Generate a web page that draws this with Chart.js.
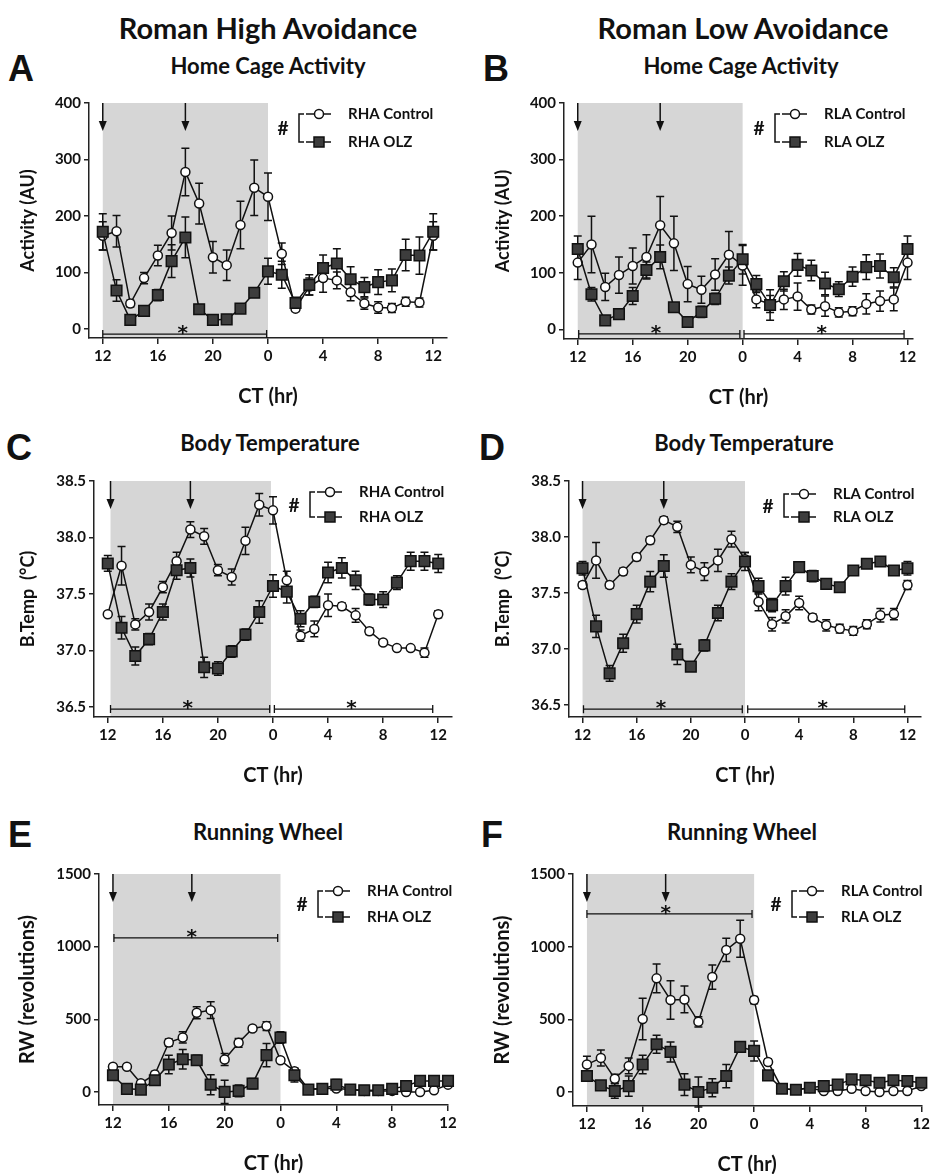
<!DOCTYPE html>
<html>
<head>
<meta charset="utf-8">
<script src="https://cdn.jsdelivr.net/npm/chart.js"></script>
<style>
  body { margin: 0; background: #fff; width: 933px; height: 1174px; position: relative; overflow: hidden; font-family: Lato, sans-serif; }
  .t { position: absolute; font-weight: bold; color: #111; white-space: nowrap; line-height: 1; transform: translate(-50%, -50%); }
  .let { font-family: "Liberation Sans", Arial, sans-serif; font-size: 36px; }
  canvas { position: absolute; }
</style>
</head>
<body>
<div class="t" style="left:268px;top:27px;font-size:29px">Roman High Avoidance</div>
<div class="t" style="left:743px;top:27px;font-size:29px">Roman Low Avoidance</div>
<div class="t let" style="left:21px;top:69px">A</div>
<div class="t let" style="left:496px;top:69px">B</div>
<div class="t" style="left:268px;top:66px;font-size:22px">Home Cage Activity</div>
<div class="t" style="left:741px;top:66px;font-size:22px">Home Cage Activity</div>
<div class="t let" style="left:19px;top:448px">C</div>
<div class="t let" style="left:492px;top:448px">D</div>
<div class="t" style="left:270px;top:443px;font-size:22px">Body Temperature</div>
<div class="t" style="left:744px;top:443px;font-size:22px">Body Temperature</div>
<div class="t let" style="left:20px;top:835px">E</div>
<div class="t let" style="left:492px;top:835px">F</div>
<div class="t" style="left:268px;top:832px;font-size:22px">Running Wheel</div>
<div class="t" style="left:742px;top:832px;font-size:22px">Running Wheel</div>

<script>
// hours since CT12, one point per hour
const ctIndex = [0,1,2,3,4,5,6,7,8,9,10,11,12,13,14,15,16,17,18,19,20,21,22,23,24];
const xTickVals = [0,4,8,12,16,20,24];
const xTickLabels = ['12','16','20','0','4','8','12'];

const actTicks = [0,100,200,300,400];
const tmpTicks = [36.5,37.0,37.5,38.0,38.5];
const rwTicks = [0,500,1000,1500];

// A - home cage activity, RHA
const actRhaCtl    = [165,173,45,90,130,170,278,222,127,113,184,250,234,133,36,75,90,86,65,45,38,37,48,47,165];
const actRhaCtlErr = [25,28,6,10,18,30,42,36,28,27,42,49,42,19,5,15,25,15,15,10,10,8,8,8,25];
const actRhaOlz    = [172,68,16,32,60,120,162,35,16,17,36,64,102,96,46,78,108,116,88,74,83,86,131,130,172];
const actRhaOlzErr = [32,19,5,5,10,29,36,6,5,5,6,6,23,24,10,18,23,26,22,17,22,20,28,33,32];

// B - home cage activity, RLA
const actRlaCtl    = [118,150,75,96,112,128,184,152,80,70,97,132,113,53,45,53,58,35,41,30,32,45,50,53,118];
const actRlaCtlErr = [30,50,24,32,32,39,51,48,31,24,28,41,35,15,15,18,24,8,18,8,8,18,18,20,30];
const actRlaOlz    = [142,62,16,27,59,105,128,39,13,31,54,95,124,80,43,85,114,104,81,71,93,110,112,92,142];
const actRlaOlzErr = [23,12,5,5,15,14,21,6,5,10,10,15,26,15,27,17,20,18,20,13,17,22,21,17,23];

// C - body temperature, RHA
const tmpRhaCtl    = [37.32,37.75,37.23,37.34,37.56,37.79,38.07,38.01,37.71,37.65,37.97,38.29,38.24,37.62,37.13,37.19,37.40,37.39,37.31,37.17,37.07,37.02,37.02,36.98,37.32];
const tmpRhaCtlErr = [0.02,0.17,0.05,0.07,0.05,0.08,0.07,0.07,0.05,0.07,0.12,0.10,0.12,0.08,0.05,0.07,0.10,0.03,0.06,0.03,0.02,0.02,0.02,0.04,0.03];
const tmpRhaOlz    = [37.77,37.20,36.95,37.10,37.34,37.71,37.73,36.85,36.84,36.99,37.14,37.34,37.57,37.52,37.28,37.43,37.69,37.73,37.62,37.45,37.45,37.60,37.79,37.79,37.77];
const tmpRhaOlzErr = [0.07,0.10,0.08,0.05,0.07,0.08,0.08,0.09,0.06,0.05,0.05,0.10,0.10,0.10,0.07,0.05,0.09,0.09,0.08,0.05,0.07,0.06,0.08,0.08,0.08];

// D - body temperature, RLA
const tmpRlaCtl    = [37.57,37.79,37.57,37.69,37.82,37.97,38.15,38.09,37.75,37.69,37.79,37.98,37.80,37.42,37.22,37.29,37.41,37.28,37.21,37.18,37.16,37.22,37.30,37.31,37.57];
const tmpRlaCtlErr = [0.03,0.16,0.03,0.03,0.03,0.03,0.03,0.05,0.07,0.08,0.10,0.07,0.06,0.08,0.06,0.06,0.06,0.03,0.05,0.04,0.04,0.04,0.06,0.05,0.04];
const tmpRlaOlz    = [37.72,37.20,36.78,37.05,37.31,37.60,37.74,36.95,36.84,37.03,37.32,37.60,37.78,37.56,37.39,37.56,37.73,37.65,37.58,37.55,37.70,37.76,37.78,37.70,37.72];
const tmpRlaOlzErr = [0.06,0.10,0.07,0.08,0.08,0.09,0.10,0.09,0.04,0.05,0.07,0.07,0.08,0.07,0.06,0.08,0.04,0.05,0.04,0.04,0.04,0.04,0.04,0.04,0.06];

// E - running wheel, RHA
const rwRhaCtl    = [173,173,60,120,340,375,545,563,223,338,437,453,218,143,18,23,23,16,7,7,7,0,0,12,50];
const rwRhaCtlErr = [15,12,12,20,25,39,41,57,41,30,15,30,15,20,8,8,8,8,8,8,8,8,8,8,10];
const rwRhaOlz    = [115,21,16,80,189,225,218,50,0,7,57,253,375,115,16,21,50,16,12,12,21,41,76,76,76];
const rwRhaOlzErr = [35,10,15,15,64,67,35,69,80,40,35,80,40,46,10,10,35,10,10,10,10,15,28,20,20];

// F - running wheel, RLA
const rwRlaCtl    = [189,235,92,180,502,782,633,637,483,791,978,1054,633,207,23,16,28,7,7,23,7,0,7,7,41];
const rwRlaCtlErr = [57,55,30,55,143,99,133,92,35,83,80,127,25,20,10,10,15,10,10,15,10,15,10,15,15];
const rwRlaOlz    = [110,46,7,41,189,329,276,51,0,30,110,311,283,115,23,16,30,41,51,87,81,64,81,76,64];
const rwRlaOlzErr = [30,20,50,70,64,62,69,75,103,62,80,35,69,30,10,10,15,15,15,20,15,15,15,15,15];

const INK = '#111';
Chart.defaults.font.family = 'Lato';
Chart.defaults.color = INK;

const decor = {
  id: 'decor',
  beforeDraw(chart, args, o) {
    const { ctx, chartArea: a, scales: { x } } = chart;
    const x0 = x.getPixelForValue(o.shade[0]);
    const x1 = x.getPixelForValue(o.shade[1]);
    ctx.save();
    ctx.fillStyle = '#d6d6d6';
    ctx.fillRect(x0, a.top, x1 - x0, a.bottom - a.top);
    ctx.restore();
  },
  beforeDatasetsDraw(chart, args, o) {
    const { ctx, chartArea: a, scales: { x, y } } = chart;
    ctx.save();
    ctx.strokeStyle = INK;
    ctx.fillStyle = INK;
    // arrows at the top
    ctx.lineWidth = 1.5;
    o.arrows.forEach(v => {
      const px = x.getPixelForValue(v);
      ctx.beginPath();
      ctx.moveTo(px, a.top);
      ctx.lineTo(px, a.top + 20);
      ctx.stroke();
      ctx.beginPath();
      ctx.moveTo(px - 4, a.top + 18);
      ctx.lineTo(px + 4, a.top + 18);
      ctx.lineTo(px, a.top + 28);
      ctx.closePath();
      ctx.fill();
    });
    // significance brackets
    ctx.lineWidth = 1.3;
    o.brackets.forEach(b => {
      const bx0 = x.getPixelForValue(b.from);
      const bx1 = x.getPixelForValue(b.to);
      const by = y.getPixelForValue(b.y);
      ctx.beginPath();
      ctx.moveTo(bx0, by); ctx.lineTo(bx1, by);
      ctx.moveTo(bx0, by - 4); ctx.lineTo(bx0, by + 4);
      ctx.moveTo(bx1, by - 4); ctx.lineTo(bx1, by + 4);
      ctx.stroke();
      ctx.font = 'bold 20px "DejaVu Sans"';
      ctx.textAlign = 'center';
      ctx.textBaseline = 'alphabetic';
      ctx.fillText('*', x.getPixelForValue(b.star), by + 5);
    });
    // error bars (SEM)
    ctx.lineWidth = 1.5;
    chart.data.datasets.forEach(ds => {
      ds.data.forEach((pt, i) => {
        const e = ds.err[i];
        const px = x.getPixelForValue(pt.x);
        const yt = y.getPixelForValue(pt.y + e);
        const yb = y.getPixelForValue(pt.y - e);
        ctx.beginPath();
        ctx.moveTo(px, yt); ctx.lineTo(px, yb);
        ctx.moveTo(px - 4, yt); ctx.lineTo(px + 4, yt);
        ctx.moveTo(px - 4, yb); ctx.lineTo(px + 4, yb);
        ctx.stroke();
      });
    });
    ctx.restore();
  },
  afterDraw(chart, args, o) {
    const { ctx, chartArea: a } = chart;
    const lg = o.legend;
    const hx = a.left + lg.dx;
    const r1 = a.top + lg.r1;
    const r2 = a.top + lg.r2;
    ctx.save();
    ctx.strokeStyle = INK;
    ctx.fillStyle = INK;
    ctx.lineWidth = 1.5;
    ctx.font = 'bold 19px Lato';
    ctx.textAlign = 'center';
    ctx.textBaseline = 'middle';
    ctx.fillText('#', hx, (r1 + r2) / 2 + 1);
    ctx.beginPath();
    ctx.moveTo(hx + 21, r1); ctx.lineTo(hx + 16, r1);
    ctx.lineTo(hx + 16, r2); ctx.lineTo(hx + 21, r2);
    ctx.stroke();
    [r1, r2].forEach(ry => {
      ctx.beginPath();
      ctx.moveTo(hx + 23, ry); ctx.lineTo(hx + 48, ry);
      ctx.stroke();
    });
    ctx.beginPath();
    ctx.arc(hx + 36, r1, 4.5, 0, Math.PI * 2);
    ctx.fillStyle = '#fff';
    ctx.fill();
    ctx.stroke();
    ctx.fillStyle = '#3d3d3d';
    ctx.fillRect(hx + 31, r2 - 5, 10, 10);
    ctx.strokeRect(hx + 31, r2 - 5, 10, 10);
    ctx.fillStyle = INK;
    ctx.font = 'bold 15px Lato';
    ctx.textAlign = 'left';
    ctx.fillText(lg.names[0], hx + 65, r1);
    ctx.fillText(lg.names[1], hx + 65, r2);
    ctx.restore();
  }
};

const panels = [
  { left: 0, w: 466, area: [89, 447, 103, 338], xMax: 25, yMin: -16, yMax: 400, yTicks: actTicks, dec: 0,
    yTitle: 'Activity (AU)', ySize: 18,
    ctl: actRhaCtl, ctlErr: actRhaCtlErr, olz: actRhaOlz, olzErr: actRhaOlzErr,
    names: ['RHA Control', 'RHA OLZ'], shade: [0, 12], arrows: [0, 6],
    brackets: [{ from: 0, to: 11.9, y: -9, star: 5.8 }],
    legend: { dx: 194, r1: 11, r2: 39 } },
  { left: 466, w: 467, area: [564, 913, 103, 339], xMax: 24.4, yMin: -17, yMax: 400, yTicks: actTicks, dec: 0,
    yTitle: 'Activity (AU)', ySize: 18,
    ctl: actRlaCtl, ctlErr: actRlaCtlErr, olz: actRlaOlz, olzErr: actRlaOlzErr,
    names: ['RLA Control', 'RLA OLZ'], shade: [0, 12], arrows: [0, 6],
    brackets: [{ from: 0.07, to: 11.8, y: -8, star: 5.7 }, { from: 12.1, to: 23.75, y: -8, star: 17.75 }],
    legend: { dx: 195, r1: 11, r2: 39 } },
  { left: 0, w: 466, area: [94, 452, 481, 717], xMax: 25, yMin: 36.41, yMax: 38.5, yTicks: tmpTicks, dec: 1,
    yTitle: 'B.Temp  (\u00B0C)', ySize: 18,
    ctl: tmpRhaCtl, ctlErr: tmpRhaCtlErr, olz: tmpRhaOlz, olzErr: tmpRhaOlzErr,
    names: ['RHA Control', 'RHA OLZ'], shade: [0.2, 11.85], arrows: [0.2, 6],
    brackets: [{ from: 0.2, to: 11.76, y: 36.48, star: 5.8 }, { from: 12.1, to: 23.6, y: 36.48, star: 17.7 }],
    legend: { dx: 200, r1: 11, r2: 36 } },
  { left: 466, w: 467, area: [569, 921, 481, 717], xMax: 25, yMin: 36.39, yMax: 38.5, yTicks: tmpTicks, dec: 1,
    yTitle: 'B.Temp  (\u00B0C)', ySize: 18,
    ctl: tmpRlaCtl, ctlErr: tmpRlaCtlErr, olz: tmpRlaOlz, olzErr: tmpRlaOlzErr,
    names: ['RLA Control', 'RLA OLZ'], shade: [0, 12], arrows: [0, 6],
    brackets: [{ from: 0.07, to: 11.8, y: 36.46, star: 5.8 }, { from: 12.2, to: 23.8, y: 36.46, star: 17.75 }],
    legend: { dx: 199, r1: 13, r2: 36 } },
  { left: 0, w: 466, area: [99, 448, 874, 1105], xMax: 24, yMin: -90, yMax: 1500, yTicks: rwTicks, dec: 0,
    yTitle: 'RW (revolutions)', ySize: 20,
    ctl: rwRhaCtl, ctlErr: rwRhaCtlErr, olz: rwRhaOlz, olzErr: rwRhaOlzErr,
    names: ['RHA Control', 'RHA OLZ'], shade: [0, 12], arrows: [0, 5.65],
    brackets: [{ from: 0.07, to: 11.8, y: 1060, star: 5.65 }],
    legend: { dx: 203, r1: 17, r2: 43 } },
  { left: 466, w: 467, area: [573, 923, 874, 1106], xMax: 24, yMin: -96, yMax: 1500, yTicks: rwTicks, dec: 0,
    yTitle: 'RW (revolutions)', ySize: 20,
    ctl: rwRlaCtl, ctlErr: rwRlaCtlErr, olz: rwRlaOlz, olzErr: rwRlaOlzErr,
    names: ['RLA Control', 'RLA OLZ'], shade: [0, 12], arrows: [0, 5.65],
    brackets: [{ from: 0, to: 11.85, y: 1225, star: 5.65 }],
    legend: { dx: 203, r1: 17, r2: 43 } }
];

const PAD_TOP = 12;
const X_AXIS_H = 71;

panels.forEach(p => {
  const [aL, aR, aT, aB] = p.area;
  const cv = document.createElement('canvas');
  const top = aT - PAD_TOP;
  const h = aB + X_AXIS_H - top;
  cv.width = p.w;
  cv.height = h;
  cv.style.left = p.left + 'px';
  cv.style.top = top + 'px';
  document.body.appendChild(cv);

  const yAxisW = aL - p.left;
  const titleOffset = p.left === 0 ? 28 : 37;

  new Chart(cv, {
    type: 'line',
    data: {
      datasets: [
        {
          label: p.names[0],
          data: p.ctl.map((v, i) => ({ x: ctIndex[i], y: v })),
          err: p.ctlErr,
          borderColor: INK,
          borderWidth: 1.5,
          pointStyle: 'circle',
          pointRadius: 4.5,
          pointBackgroundColor: '#fff',
          pointBorderColor: INK,
          pointBorderWidth: 1.5,
          clip: false,
          order: 1
        },
        {
          label: p.names[1],
          data: p.olz.map((v, i) => ({ x: ctIndex[i], y: v })),
          err: p.olzErr,
          borderColor: INK,
          borderWidth: 1.5,
          pointStyle: 'rect',
          pointRadius: 7.5,
          pointBackgroundColor: '#3d3d3d',
          pointBorderColor: INK,
          pointBorderWidth: 1.5,
          clip: false,
          order: 0
        }
      ]
    },
    options: {
      responsive: false,
      animation: false,
      devicePixelRatio: 1,
      layout: { padding: { top: PAD_TOP, right: p.left + p.w - aR, left: 0, bottom: 0 } },
      plugins: {
        legend: { display: false },
        tooltip: { enabled: false },
        decor: { shade: p.shade, arrows: p.arrows, brackets: p.brackets,
                 legend: { dx: p.legend.dx, r1: p.legend.r1, r2: p.legend.r2, names: p.names } }
      },
      scales: {
        x: {
          type: 'linear',
          min: -1,
          max: p.xMax,
          afterBuildTicks: s => { s.ticks = xTickVals.map(v => ({ value: v })); },
          afterFit: s => { s.height = X_AXIS_H; },
          ticks: {
            callback: (v, i) => xTickLabels[i],
            font: { size: 15, weight: 'bold' },
            color: INK,
            padding: 3,
            maxRotation: 0,
            autoSkip: false
          },
          grid: { drawOnChartArea: false, drawTicks: true, tickLength: 6, color: '#222', lineWidth: 1.5 },
          border: { display: true, color: '#222', width: 1.5 },
          title: { display: true, text: 'CT (hr)', font: { size: 20, weight: 'bold' }, color: INK, padding: { top: 0, bottom: 0 } }
        },
        y: {
          min: p.yMin,
          max: p.yMax,
          afterBuildTicks: s => { s.ticks = p.yTicks.map(v => ({ value: v })); },
          afterFit: s => { s.width = yAxisW; },
          ticks: {
            callback: v => v.toFixed(p.dec),
            font: { size: 15, weight: 'bold' },
            color: INK,
            padding: 3,
            autoSkip: false
          },
          grid: { drawOnChartArea: false, drawTicks: true, tickLength: 5, color: '#222', lineWidth: 1.5 },
          border: { display: true, color: '#222', width: 1.5 },
          title: { display: true, text: p.yTitle, font: { size: p.ySize, weight: 'bold' }, color: INK,
                   padding: { top: titleOffset - p.ySize * 0.6, bottom: 0 } }
        }
      }
    },
    plugins: [decor]
  });
});
</script>
</body>
</html>
